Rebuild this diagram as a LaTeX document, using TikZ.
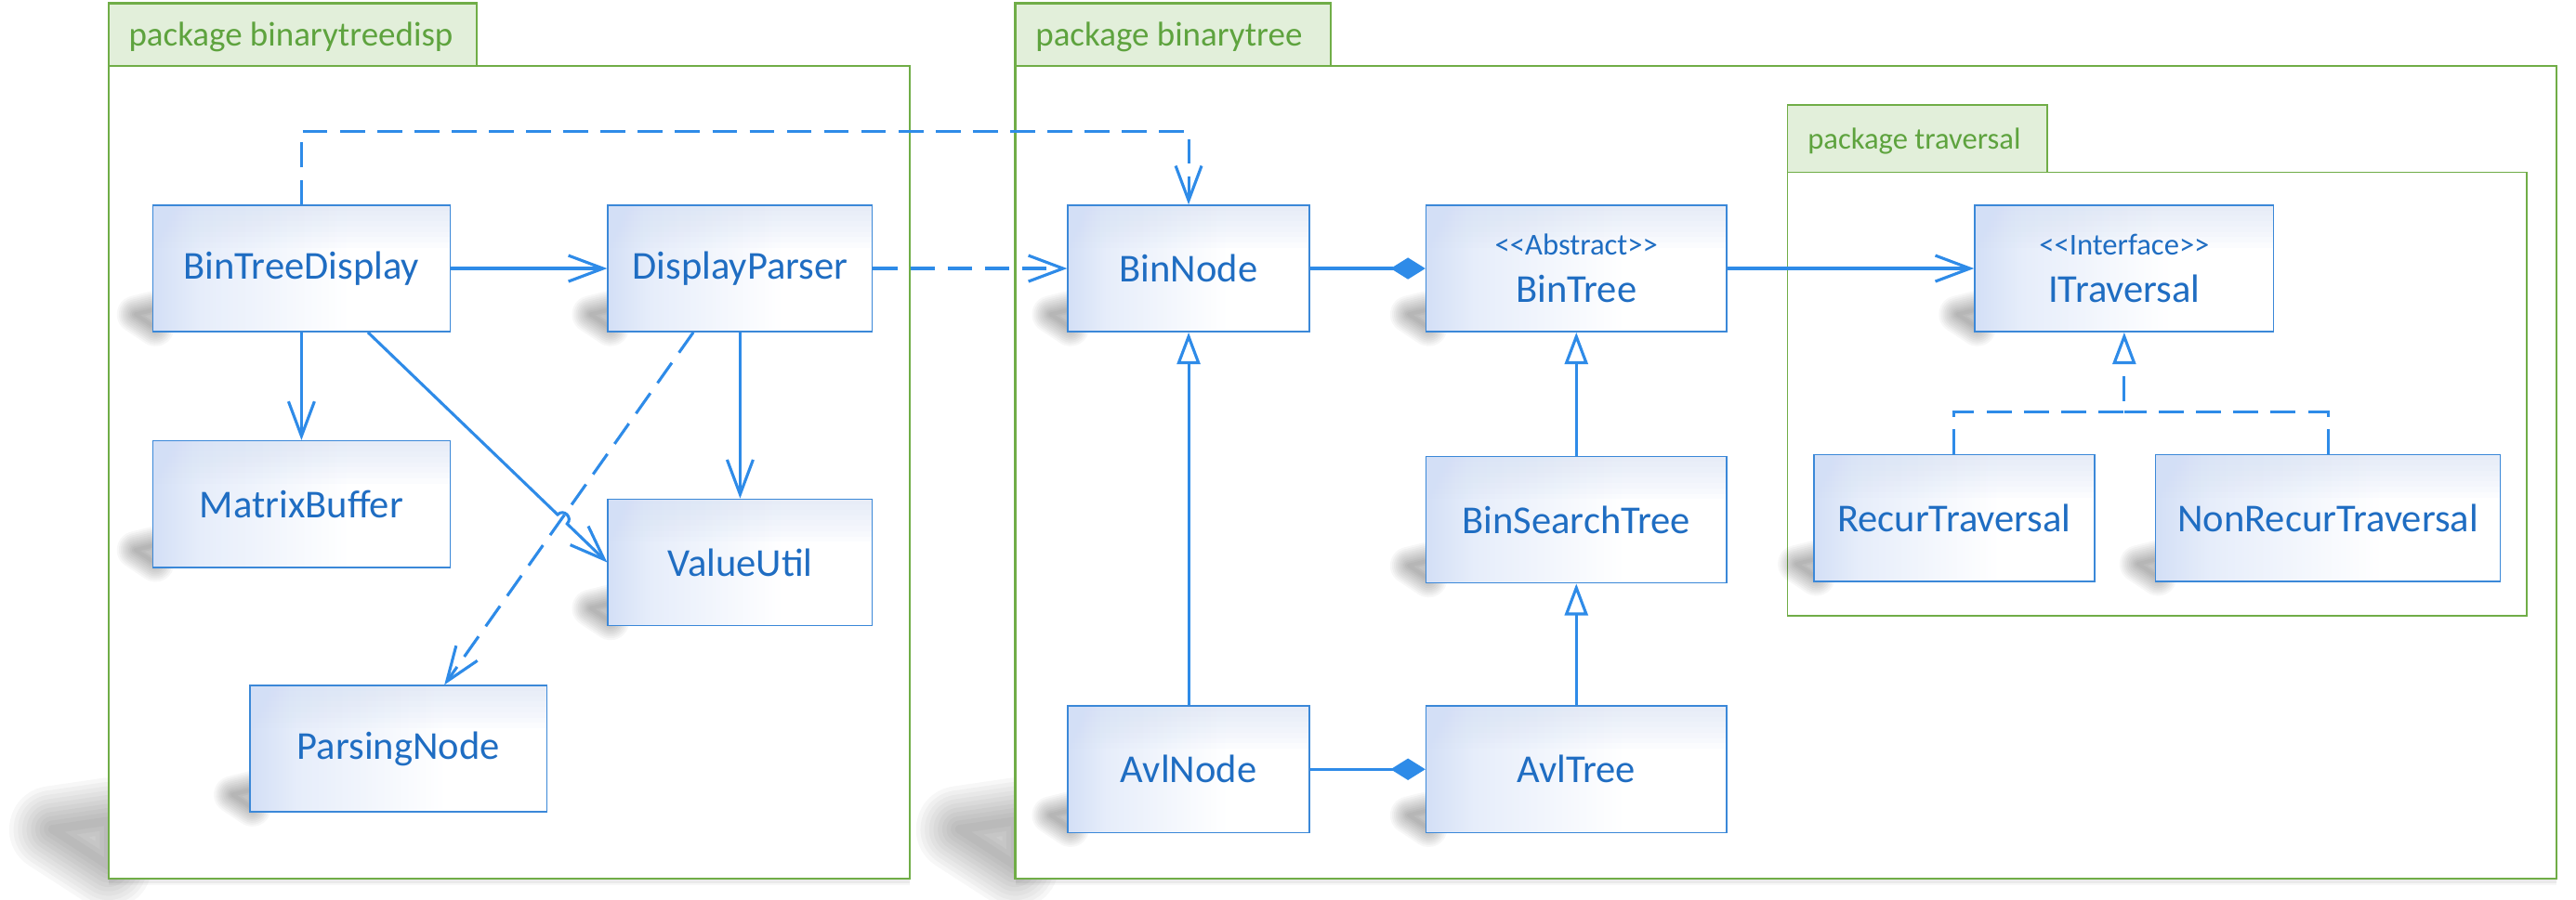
\documentclass[tikz,border=0pt]{standalone}
\usepackage{fontspec}
\setmainfont{Carlito}
\usetikzlibrary{arrows.meta,calc}
\definecolor{lineblue}{HTML}{2E8BE8}
\definecolor{txtblue}{HTML}{1F6DC2}
\definecolor{boxborder}{HTML}{3B88D8}
\definecolor{clsL}{HTML}{D3DFF6}
\definecolor{clsM}{HTML}{E6EDFA}
\definecolor{pkggreen}{HTML}{70AD47}
\definecolor{tabfill}{HTML}{E2EFDA}
\definecolor{tabtext}{HTML}{5EA33E}
\pgfdeclarehorizontalshading{clsshade}{100bp}{color(0bp)=(clsL); color(25bp)=(clsL); color(33bp)=(clsM); color(58bp)=(white); color(100bp)=(white)}
\pgfdeclarelayer{frames}
\pgfdeclarelayer{shadows}
\pgfsetlayers{frames,shadows,main}
\tikzset{
  cls/.style={draw=boxborder, line width=0.5pt, shading=clsshade, inner sep=0pt,
    text=txtblue, font=\fontsize{13.7}{16.4}\selectfont, align=center, minimum height=1.54cm,
    path picture={\foreach \i in {1,...,8} {\fill[clsL, opacity=0.08] (path picture bounding box.north west) rectangle ([yshift=-\i*0.065cm]path picture bounding box.north east);}}},
  conn/.style={draw=lineblue, line width=1pt},
  dep/.style={conn, -{Straight Barb[length=12pt,width=9pt]}},
  dashdep/.style={dep, dash pattern=on 8.6pt off 4.3pt},
  inh/.style={conn, -{Triangle[length=11pt,width=8pt,fill=white]}},
  realz/.style={inh, dash pattern=on 8.6pt off 4.3pt},
  comp/.style={conn, -{Diamond[length=12pt,width=7.5pt]}},
  frame/.style={draw=pkggreen, line width=0.7pt, fill=white},
  tab/.style={draw=pkggreen, line width=0.7pt, fill=tabfill},
  tablbl/.style={text=tabtext, inner sep=0pt, anchor=west},
  shd/.style={draw=black, line join=round},
}
% soft (stacked-stroke) shadow: #1 = largest line width in pt, #2 = opacity step, #3 = path
\newcommand\softshade[3]{%
  \foreach \k in {1,...,10} {\path[shd, draw opacity=#2, line width={#1*(11-\k)/10*1pt}] #3;}}
\newcommand\boxshade[1]{\softshade{13}{0.03}{($(#1.south west)+(-10,-11)$) -- ($(#1.south west)+(2,-14)$) -- ($(#1.south west)+(2,-3)$) -- cycle}}
\newcommand\sttext[1]{{\fontsize{10.5}{16.4}\selectfont #1}}
\begin{document}
\begin{tikzpicture}[x=0.02cm, y=-0.02cm]
\useasboundingbox (0,0) rectangle (1568,548);
\begin{pgfonlayer}{frames}
  \softshade{30}{0.03}{(32,505) -- (66,500) -- (66,527) -- cycle}
  \softshade{30}{0.03}{(584,505) -- (618,500) -- (618,527) -- cycle}
  \softshade{10}{0.025}{(1078,98) -- (1090,96) -- (1090,103) -- cycle}
  \foreach \yy/\op in {1/0.05,2.5/0.03} {
    \draw[black, opacity=\op, line width=2pt] (66,535+\yy) -- (554,535+\yy);
    \draw[black, opacity=\op, line width=2pt] (618,535+\yy) -- (1556,535+\yy);}
  \draw[frame] (66,40) rectangle (554,535);
  \draw[tab] (66,2) rectangle (290,40);
  \node[tablbl, font=\fontsize{11.9}{14}\selectfont] (lblA) at (78,22.5) {package binarytreedisp};
  \draw[frame] (618,40) rectangle (1556,535);
  \draw[tab] (618,2) rectangle (810,40);
  \node[tablbl, font=\fontsize{11.9}{14}\selectfont] (lblB) at (630,22.5) {package binarytree};
  \draw[frame, line width=0.5pt] (1088,105) rectangle (1538,375);
  \draw[tab, line width=0.5pt] (1088,64) rectangle (1246,105);
  \node[tablbl, font=\fontsize{10.5}{12}\selectfont] (lblC) at (1100,86) {package traversal};
\end{pgfonlayer}

\node[cls, minimum width=3.62cm] (btd) at (183.5,163.5) {BinTreeDisplay};
\node[cls, minimum width=3.22cm] (dp) at (450.5,163.5) {DisplayParser};
\node[cls, minimum width=3.62cm] (mb) at (183.5,307) {MatrixBuffer};
\node[cls, minimum width=3.22cm] (vu) at (450.5,342.5) {ValueUtil};
\node[cls, minimum width=3.62cm] (pn) at (242.5,456) {ParsingNode};
\node[cls, minimum width=2.94cm] (bn) at (723.5,163.5) {BinNode};
\node[cls, minimum width=3.66cm] (bt) at (959.5,163.5) {\sttext{<{}<Abstract>{}>}\\BinTree};
\node[cls, minimum width=3.64cm] (it) at (1293,163.5) {\sttext{<{}<Interface>{}>}\\ITraversal};
\node[cls, minimum width=3.66cm] (bst) at (959.5,316.5) {BinSearchTree};
\node[cls, minimum width=3.42cm] (rt) at (1189.5,315.5) {RecurTraversal};
\node[cls, minimum width=4.2cm] (nrt) at (1417,315.5) {NonRecurTraversal};
\node[cls, minimum width=2.94cm] (avn) at (723.5,468.5) {AvlNode};
\node[cls, minimum width=3.66cm] (avt) at (959.5,468.5) {AvlTree};

\begin{pgfonlayer}{shadows}
  \foreach \n in {btd,dp,mb,vu,pn,bn,bt,it,bst,rt,nrt,avn,avt} {\boxshade{\n}}
\end{pgfonlayer}

\coordinate (tr) at (450,80);
\coordinate (rj) at (1293,251);
\coordinate (hopA) at (339.4,313.4);
\coordinate (hopB) at (345.2,319.0);
\coordinate (hopC1) at (343.1,309.6);
\coordinate (hopC2) at (348.9,315.2);

\draw[dep] ($(btd.south)+(40.5,0)$) -- (hopA) .. controls (hopC1) and (hopC2) .. (hopB) -- (vu.west);
\draw[dep] (btd.east) -- (dp.west);
\draw[dep] (btd.south) -- (mb.north);
\draw[dep] (dp.south) -- (vu.north);
\draw[dashdep] ($(dp.south)+(-28.5,0)$) -- ($(pn.north)+(28,0)$);
\draw[dashdep] (dp.east) -- (bn.west);
\draw[dashdep] (btd.north) |- (tr) -| (bn.north);
\draw[comp] (bn.east) -- (bt.west);
\draw[dep] (bt.east) -- (it.west);
\draw[inh] (bst.north) -- (bt.south);
\draw[inh] (avt.north) -- (bst.south);
\draw[inh] (avn.north) -- (bn.south);
\draw[comp] (avn.east) -- (avt.west);
\draw[realz] (rt.north) |- (rj) -- (it.south);
\draw[conn, dash pattern=on 8.6pt off 4.3pt] (nrt.north) |- (rj);
\end{tikzpicture}
\end{document}
